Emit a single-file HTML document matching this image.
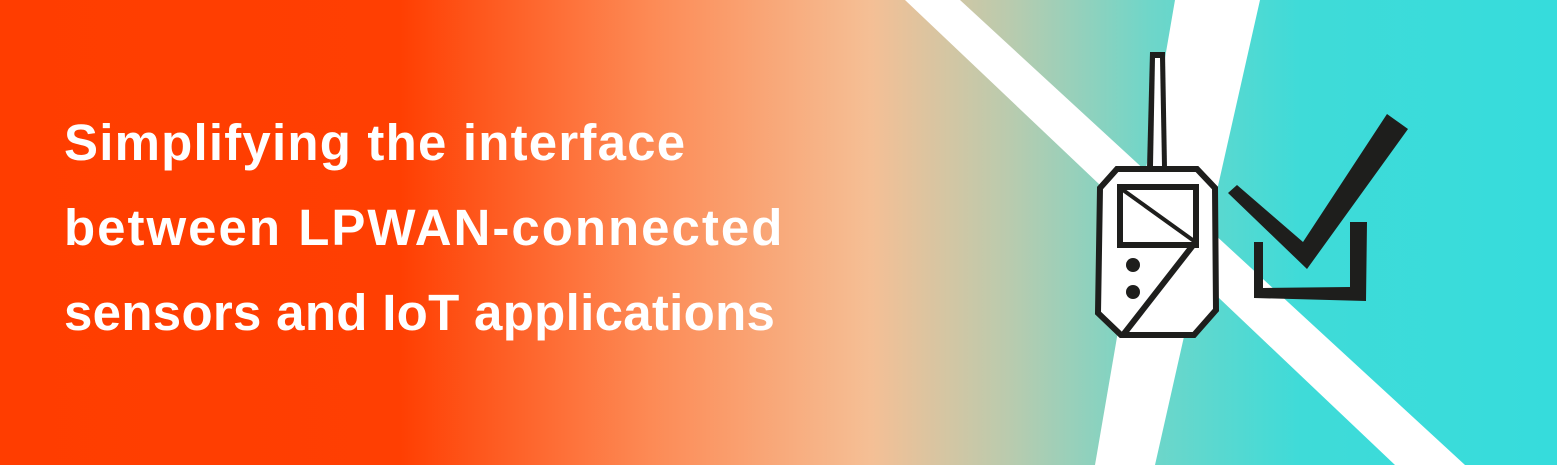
<!DOCTYPE html>
<html><head><meta charset="utf-8"><style>
html,body{margin:0;padding:0}
body{width:1557px;height:465px;overflow:hidden;position:relative;
background:linear-gradient(90deg,#ff3d00 0px,#ff3f02 400px,#fd8a55 650px,#f5bf95 870px,#b9cbae 1010px,#6fd6c9 1150px,#3fdbd8 1300px,#36dcdc 1557px);}
.t{position:absolute;left:64px;color:#fff;font-family:"Liberation Sans",sans-serif;font-weight:bold;font-size:51px;letter-spacing:2px;white-space:nowrap;line-height:1}
svg{position:absolute;left:0;top:0}
</style></head><body>
<svg width="1557" height="465">
<polygon points="905,0 960,0 1465,465 1395,465" fill="#fff"/>
<polygon points="1175,0 1260,0 1155,465 1095,465" fill="#fff"/>
<polygon points="1150,52 1165,52 1167,168 1147,168" fill="#1e1e1c"/>
<polygon points="1155,58 1160,58 1162,166 1153,166" fill="#fff"/>
<polygon points="1117,169 1197,169 1215,188 1216,310 1194,335 1121,335 1098,313 1100,188" fill="#fff" stroke="#1e1e1c" stroke-width="6" stroke-linejoin="miter"/>
<rect x="1120" y="187" width="76" height="58" fill="none" stroke="#1e1e1c" stroke-width="6"/>
<line x1="1123" y1="190" x2="1194" y2="241" stroke="#1e1e1c" stroke-width="4"/>
<line x1="1194" y1="244" x2="1123" y2="335" stroke="#1e1e1c" stroke-width="6"/>
<circle cx="1133" cy="265" r="7" fill="#1e1e1c"/>
<circle cx="1133" cy="292" r="7" fill="#1e1e1c"/>
<polygon points="1228,193 1237,185 1303,242 1387,114 1408,129 1307,269" fill="#1e1e1c"/>
<polygon points="1254,242 1263,242 1263,288 1350,287 1350,222 1367,222 1366,301 1254,298" fill="#1e1e1c"/>
</svg>
<div class="t" style="top:117px;letter-spacing:1.2px">Simplifying the interface</div>
<div class="t" style="top:202px">between LPWAN-connected</div>
<div class="t" style="top:287px;letter-spacing:0.3px">sensors and IoT applications</div>
</body></html>
